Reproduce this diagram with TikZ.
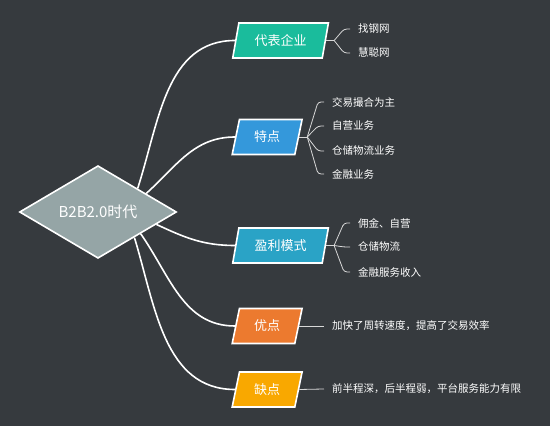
\documentclass[tikz,border=0pt]{standalone}
\usepackage{fontspec}
\setmainfont{Noto Sans CJK SC}
\usetikzlibrary{shapes.geometric}
\definecolor{mapdark}{HTML}{363A3E}
\definecolor{hubgray}{HTML}{95A5A6}
\definecolor{firmteal}{HTML}{1ABC9C}
\definecolor{traitblue}{HTML}{3498DB}
\definecolor{profitcyan}{HTML}{2AA3C6}
\definecolor{prosorange}{HTML}{EC7A2F}
\definecolor{consamber}{HTML}{F9A800}
\definecolor{twiggray}{HTML}{D8D8D8}

\tikzset{
  hub/.style={diamond, fill=hubgray, draw=white, line width=1.6pt, minimum width=157pt, minimum height=87pt, inner sep=0pt, text=white, font=\fontsize{15}{15}\selectfont},
  topic/.style={trapezium, trapezium left angle=77, trapezium right angle=103, trapezium stretches=true, draw=white, line width=1.6pt, minimum height=35pt, text=white, font=\fontsize{13}{13}\selectfont, anchor=west},
  leaf/.style={text=white, font=\fontsize{10.5}{10.5}\selectfont, anchor=west, inner xsep=8pt},
  link/.style={white, line width=1.6pt},
  twig/.style={twiggray, line width=0.8pt, rounded corners=3pt}
}

\begin{document}
\begin{tikzpicture}[x=1pt, y=1pt]
  % Background
  \useasboundingbox (0,0) rectangle (550,426);
  \fill[mapdark] (0,0) rectangle (550,426);

  % Central topic
  \node[hub] (hub) at (98,214) {B2B2.0时代};

  % Main branches
  \node[topic, fill=firmteal, minimum width=96pt] (firm) at (235,385.5) {代表企业};
  \node[topic, fill=traitblue, minimum width=70pt] (trait) at (235,289) {特点};
  \node[topic, fill=profitcyan, minimum width=96pt] (profit) at (235,180.5) {盈利模式};
  \node[topic, fill=prosorange, minimum width=70pt] (pros) at (235,100) {优点};
  \node[topic, fill=consamber, minimum width=70pt] (cons) at (235,36.5) {缺点};

  \draw[link] (hub.north east) to[out=72, in=180] (firm.west);
  \draw[link] (hub.21) to[out=42, in=180] (trait.west);
  \draw[link] (hub.-12) to[out=-25, in=180] (profit.west);
  \draw[link] (hub.-27) to[out=-55, in=180] (pros.west);
  \draw[link] (hub.-35) to[out=-73, in=180] (cons.west);

  % Leaves
  \node[leaf] (firm1) at (350,397) {找钢网};
  \node[leaf] (firm2) at (350,373) {慧聪网};

  \node[leaf] (trait1) at (324,324) {交易撮合为主};
  \node[leaf] (trait2) at (324,300) {自营业务};
  \node[leaf] (trait3) at (324,275) {仓储物流业务};
  \node[leaf] (trait4) at (324,252) {金融业务};

  \node[leaf] (profit1) at (350,203) {佣金、自营};
  \node[leaf] (profit2) at (350,179) {仓储物流};
  \node[leaf] (profit3) at (350,154) {金融服务收入};

  \node[leaf] (pros1) at (324,100) {加快了周转速度，提高了交易效率};
  \node[leaf] (cons1) at (324,37) {前半程深，后半程弱，平台服务能力有限};

  % Brackets
  \coordinate (firmfork) at ([xshift=8pt]firm.east);
  \coordinate (traitfork) at ([xshift=8pt]trait.east);
  \coordinate (profitfork) at ([xshift=8pt]profit.east);
  \draw[twig] (firm.east) -- (firmfork);
  \draw[twig] (trait.east) -- (traitfork);
  \draw[twig] (profit.east) -- (profitfork);
  \foreach \leafname in {firm1, firm2}
    \draw[twig] (firmfork) -- ([xshift=-6pt]\leafname.west) -- (\leafname.west);
  \foreach \leafname in {trait1, trait2, trait3, trait4}
    \draw[twig] (traitfork) -- ([xshift=-6pt]\leafname.west) -- (\leafname.west);
  \foreach \leafname in {profit1, profit2, profit3}
    \draw[twig] (profitfork) -- ([xshift=-6pt]\leafname.west) -- (\leafname.west);
  \draw[twig] (pros.east) -- (pros1.west);
  \draw[twig] (cons.east) -- (cons1.west);
\end{tikzpicture}
\end{document}
